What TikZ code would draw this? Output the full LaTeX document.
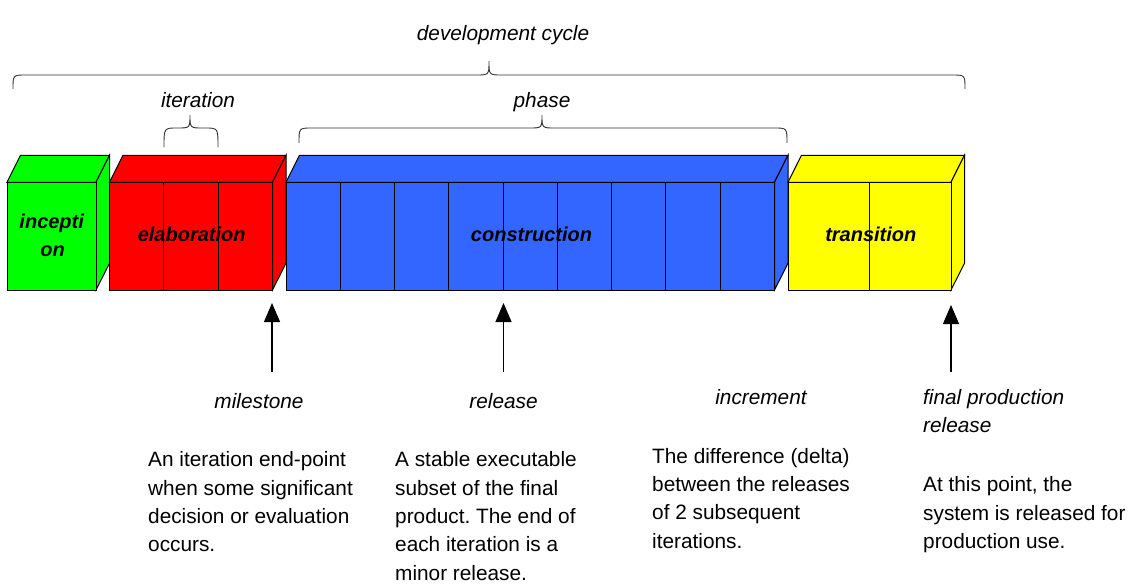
\documentclass[tikz,border=0pt]{standalone}
\usepackage{fontspec}
\setmainfont{Liberation Sans}
\usetikzlibrary{arrows.meta}
\frenchspacing
\definecolor{cgreen}{RGB}{0,255,0}
\definecolor{cred}{RGB}{255,0,0}
\definecolor{cblue}{RGB}{51,102,255}
\definecolor{cyellow}{RGB}{255,255,0}
\newcommand\drawblock[3]{%
  \draw[blockline, fill=#3] (#1,182.3) -- (#1+13.5,155.3) -- (#2+13.5,155.3) -- (#2,182.3) -- cycle;
  \draw[blockline, fill=#3] (#2,182.3) -- (#2+13.5,155.3) -- (#2+13.5,263.3) -- (#2,290) -- cycle;
  \draw[blockline, fill=#3] (#1,182.3) rectangle (#2,290);
}
\newcommand\bracepath[6]{% x1, x2, xm, yend, yline, ytip
  \draw[bracel] (#1,#4) .. controls (#1,#5) .. (#1+13,#5) -- (#3-13,#5)
    .. controls (#3,#5) .. (#3,#6) .. controls (#3,#5) .. (#3+13,#5)
    -- (#2-13,#5) .. controls (#2,#5) .. (#2,#4);
}
\begin{document}
\begin{tikzpicture}[x=1pt,y=-1pt,
  blockline/.style={draw=black, line width=1pt, line join=miter},
  divline/.style={draw=black, line width=1pt},
  bracel/.style={draw=black!80, line width=0.9pt},
  blocklabel/.style={inner sep=0pt, anchor=base, font=\fontsize{20}{23}\selectfont\bfseries\itshape},
  termlabel/.style={inner sep=0pt, anchor=base, font=\fontsize{20.8}{28.33}\selectfont\itshape},
  desc/.style={inner sep=0pt, anchor=base west, font=\fontsize{20.8}{28.33}\selectfont},
  arr/.style={-{Triangle[length=19pt,width=16pt]}, line width=1.1pt}]
\useasboundingbox (0,0) rectangle (1142,587);

% blocks
\drawblock{7}{96}{cgreen}
\drawblock{109.5}{272.5}{cred}
\foreach \k in {1,2} \draw[divline] (109.5+\k*54.333,182.3) -- (109.5+\k*54.333,290);
\drawblock{286}{774.5}{cblue}
\foreach \k in {1,...,8} \draw[divline] (286+\k*54.278,182.3) -- (286+\k*54.278,290);
\drawblock{788}{951}{cyellow}
\draw[divline] (869.5,182.3) -- (869.5,290);

% block labels
\node[blocklabel] (inc1) at (51.7,228) {incepti};
\node[blocklabel] (inc2) at (52.5,256.7) {on};
\node[blocklabel] (elab) at (191.7,241.7) {elaboration};
\node[blocklabel] (cons) at (531.5,241.7) {construction};
\node[blocklabel] (trans) at (870.8,241.7) {transition};

% braces
\bracepath{13}{965}{489}{89}{75}{61}
\bracepath{164}{218}{190}{147}{128}{115}
\bracepath{299}{787}{542}{143}{128}{115}
\node[termlabel] (dev) at (503,40) {development cycle};
\node[termlabel] (iter) at (198,107) {iteration};
\node[termlabel] (phase) at (542,107) {phase};

% arrows
\coordinate (msT) at (272,303);
\coordinate (msB) at (272,372);
\coordinate (relT) at (503.5,303);
\coordinate (relB) at (503.5,372);
\coordinate (finT) at (951,305);
\coordinate (finB) at (951,372);
\draw[arr] (msB) -- (msT);
\draw[arr] (relB) -- (relT);
\draw[arr] (finB) -- (finT);

% term labels
\node[termlabel] (ms) at (259,408.3) {milestone};
\node[termlabel] (rel) at (503.5,408.3) {release};
\node[termlabel] (inc) at (761,404.3) {increment};
\node[termlabel, anchor=base west] (fin) at (923,404.3) {\begin{tabular}[t]{@{}l@{}}final production\\release\end{tabular}};

% descriptions
\node[desc] (msd) at (148,466.7) {\begin{tabular}[t]{@{}l@{}}An iteration end-point\\when some significant\\decision or evaluation\\occurs.\end{tabular}};
\node[desc] (reld) at (395,466.7) {\begin{tabular}[t]{@{}l@{}}A stable executable\\subset of the final\\product. The end of\\each iteration is a\\minor release.\end{tabular}};
\node[desc] (incd) at (652,463.3) {\begin{tabular}[t]{@{}l@{}}The difference (delta)\\between the releases\\of 2 subsequent\\iterations.\end{tabular}};
\node[desc] (find) at (923,491.7) {\begin{tabular}[t]{@{}l@{}}At this point, the\\system is released for\\production use.\end{tabular}};
\end{tikzpicture}
\end{document}
